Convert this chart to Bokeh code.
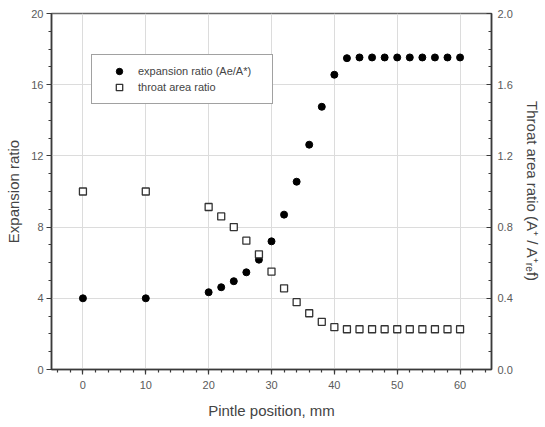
from bokeh.plotting import figure
from bokeh.models import Range1d, LinearAxis, Legend, LegendItem, FixedTicker, CustomJSTickFormatter
from bokeh.embed import file_html
from bokeh.resources import INLINE

# Data
pintle_position = [0, 10, 20, 22, 24, 26, 28, 30, 32, 34, 36, 38, 40, 42, 44, 46, 48, 50, 52, 54, 56, 58, 60]
expansion_ratio = [4.0, 4.0, 4.34, 4.62, 4.96, 5.46, 6.17, 7.2, 8.7, 10.55, 12.63, 14.76, 16.56,
                   17.49, 17.53, 17.53, 17.53, 17.53, 17.53, 17.53, 17.53, 17.53, 17.53]
throat_area_ratio = [1.0, 1.0, 0.913, 0.86, 0.80, 0.724, 0.647, 0.55, 0.456, 0.378, 0.316, 0.268, 0.238,
                     0.226, 0.226, 0.226, 0.226, 0.226, 0.226, 0.226, 0.226, 0.226, 0.226]
x_ticks = [0, 10, 20, 30, 40, 50, 60]
left_ticks = [0, 4, 8, 12, 16, 20]
right_ticks = [0.0, 0.4, 0.8, 1.2, 1.6, 2.0]

FONT = "Liberation Sans"
AXIS = "#3a3a3a"
TEXT = "#5a5a5a"

p = figure(width=545, height=427, output_backend="svg", toolbar_location=None,
           x_range=Range1d(-5, 65), y_range=Range1d(0, 20),
           min_border_left=51, min_border_right=54, min_border_top=13, min_border_bottom=58)
p.extra_y_ranges = {"right": Range1d(0, 2.0)}

p.outline_line_color = "#666666"
p.outline_line_width = 1.6
p.background_fill_color = "white"
p.border_fill_color = "white"

# grid
p.xgrid.ticker = FixedTicker(ticks=x_ticks)
p.ygrid.ticker = FixedTicker(ticks=left_ticks)
p.xgrid.grid_line_color = "#dcdcdc"
p.ygrid.grid_line_color = "#dcdcdc"
p.xgrid.grid_line_width = 1
p.ygrid.grid_line_width = 1

def style_axis(ax):
    ax.axis_line_color = AXIS
    ax.axis_line_width = 1.5
    ax.major_tick_line_color = AXIS
    ax.minor_tick_line_color = AXIS
    ax.major_tick_line_width = 1.2
    ax.minor_tick_line_width = 1.2
    ax.major_label_text_font = FONT
    ax.major_label_text_font_size = "11px"
    ax.major_label_text_color = TEXT
    ax.axis_label_text_font = FONT
    ax.axis_label_text_font_style = "normal"
    ax.axis_label_text_color = "#444444"

xa = p.xaxis[0]
xa.ticker = FixedTicker(ticks=x_ticks, minor_ticks=list(range(-4, 65, 2)))
xa.axis_label = "Pintle position, mm"
style_axis(xa)
xa.axis_label_text_font_size = "15px"
xa.major_tick_out = 5
xa.major_tick_in = 0
xa.minor_tick_out = 3
xa.minor_tick_in = 0
xa.major_label_standoff = 6
xa.axis_label_standoff = 10

ya = p.yaxis[0]
ya.ticker = FixedTicker(ticks=left_ticks, minor_ticks=list(range(0, 21, 1)))
ya.axis_label = "Expansion ratio"
style_axis(ya)
ya.axis_label_text_font_size = "15px"
ya.major_tick_out = 5
ya.major_tick_in = 0
ya.minor_tick_out = 3
ya.minor_tick_in = 0
ya.major_label_standoff = 3
ya.axis_label_standoff = 6

ra = LinearAxis(y_range_name="right",
                ticker=FixedTicker(ticks=right_ticks, minor_ticks=[i / 10 for i in range(0, 21)]),
                axis_label="Throat area ratio (A\u207a / A\u207a\u1d63\u2091f)")
style_axis(ra)
ra.axis_label_text_font_size = "15px"
ra.major_tick_out = 0
ra.major_tick_in = 5
ra.minor_tick_out = 0
ra.minor_tick_in = 3
ra.major_label_standoff = 6
ra.axis_label_standoff = 8
ra.formatter = CustomJSTickFormatter(code="return tick.toFixed(1);")
p.add_layout(ra, "right")

c = p.scatter(pintle_position, expansion_ratio, marker="circle", size=7,
              fill_color="black", line_color="black")
s = p.scatter(pintle_position, throat_area_ratio, marker="square", size=7,
              fill_color="white", line_color="#333333", line_width=1.3, y_range_name="right")

legend = Legend(items=[LegendItem(label="expansion ratio (Ae/A*)", renderers=[c]),
                       LegendItem(label="throat area ratio", renderers=[s])],
                location=(40, 265))
legend.padding = 8
legend.spacing = 0
legend.glyph_width = 38
legend.glyph_height = 16
legend.label_height = 16
legend.label_width = 126
legend.label_standoff = 0
legend.label_text_font = FONT
legend.label_text_font_size = "11px"
legend.label_text_color = "#444444"
legend.border_line_color = "#444444"
legend.border_line_width = 1.3
legend.background_fill_alpha = 1
legend.margin = 0
p.add_layout(legend, "center")

open("out.html", "w").write(file_html(p, INLINE))
